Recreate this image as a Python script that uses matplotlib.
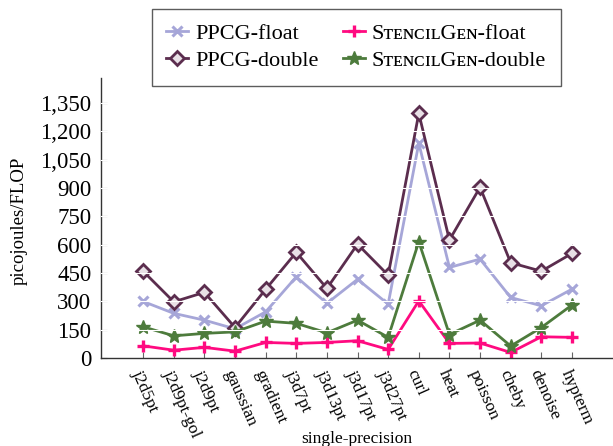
import matplotlib
matplotlib.use("Agg")
import matplotlib.pyplot as plt

categories = ["j2d5pt", "j2d9pt-gol", "j2d9pt", "gaussian", "gradient", "j3d7pt",
              "j3d13pt", "j3d17pt", "j3d27pt", "curl", "heat", "poisson", "cheby",
              "denoise", "hypterm"]
ppcg_float = [300, 237, 201, 155, 245, 430, 290, 417, 286, 1137, 480, 524, 321, 277, 365]
ppcg_double = [460, 298, 348, 162, 364, 560, 369, 603, 439, 1295, 625, 904, 505, 460, 554]
sg_float = [65, 42, 57, 37, 83, 78, 83, 92, 46, 303, 78, 80, 30, 113, 110]
sg_double = [166, 118, 131, 139, 196, 184, 134, 201, 110, 616, 125, 201, 64, 162, 281]
yticks = [0, 150, 300, 450, 600, 750, 900, 1050, 1200, 1350]

plt.rcParams['font.family'] = ['Liberation Serif', 'DejaVu Serif']

fig = plt.figure(figsize=(6.13, 4.46), dpi=100)
ax = fig.add_axes([0.165, 0.197, 0.833, 0.628])

x = list(range(len(categories)))
c_pf = "#a6a6d8"
c_pd = "#5b2d4e"
c_sf = "#ff0a80"
c_sd = "#4d7b3c"
lw = 2.0
l1, = ax.plot(x, ppcg_float, color=c_pf, lw=lw, marker='x', ms=7, mew=2.2, label="PPCG-float")
l2, = ax.plot(x, ppcg_double, color=c_pd, lw=lw, marker='D', ms=7, mew=2.0, mfc='#e8e0e6', mec=c_pd, label="PPCG-double")
l3, = ax.plot(x, sg_float, color=c_sf, lw=lw, marker='+', ms=9, mew=2.4, label="SᴛᴇɴᴄɪʟGᴇɴ-float")
l4, = ax.plot(x, sg_double, color=c_sd, lw=lw, marker='*', ms=10, mew=1.0, label="SᴛᴇɴᴄɪʟGᴇɴ-double")

for yv in yticks[1:]:
    ax.axhline(yv, color='white', lw=0.8, zorder=5)

ax.set_xlim(-1.37, 15.3)
ax.set_ylim(0, 1482)
ax.set_yticks(yticks)
ax.set_yticklabels([f"{v:,}" for v in yticks], fontsize=16.5)
ax.set_xticks(x)
ax.set_xticklabels(categories, fontsize=12.5, rotation=-66, ha='left', va='top',
                   rotation_mode='anchor')
for lab in ax.get_xticklabels():
    lab.set_y(-0.015)
ax.tick_params(axis='both', direction='in', length=4, color='#666666', width=0.8)
ax.tick_params(axis='y', pad=7)
for s in ['top', 'right']:
    ax.spines[s].set_visible(False)
for s in ['left', 'bottom']:
    ax.spines[s].set_color('#333333')
    ax.spines[s].set_linewidth(1.0)

ax.set_ylabel("picojoules/FLOP", fontsize=13.5)
ax.yaxis.set_label_coords(-0.143, 0.49)
ax.set_xlabel("single-precision", fontsize=12.5, labelpad=0)
ax.xaxis.set_label_coords(0.5, -0.26)

leg = fig.legend(handles=[l1, l2, l3, l4], ncol=2, loc='upper center',
                 bbox_to_anchor=(0.581, 0.98), fontsize=16, frameon=True,
                 fancybox=False, edgecolor='#333333', handlelength=1.0,
                 columnspacing=1.1, handletextpad=0.3, borderpad=0.65,
                 labelspacing=0.3, borderaxespad=0)
leg.get_frame().set_linewidth(1.0)

fig.savefig("out.png", dpi=100)
